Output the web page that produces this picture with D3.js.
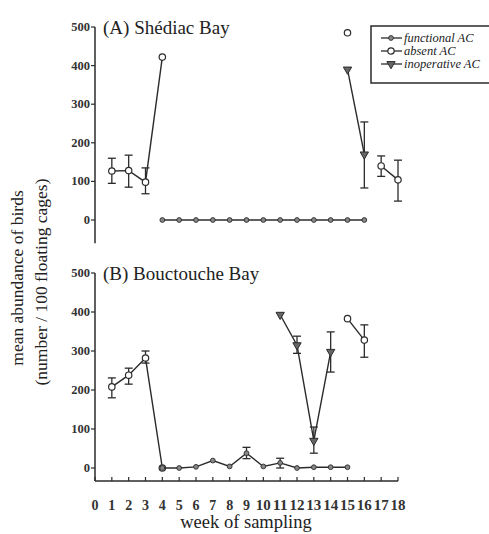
<!DOCTYPE html>
<html>
<head>
<meta charset="utf-8">
<script src="https://cdn.jsdelivr.net/npm/d3@7"></script>
<style>
  body { margin: 0; background: #fff; }
  svg { font-family: "Liberation Serif", "DejaVu Serif", serif; }
</style>
</head>
<body>
<div id="chart"></div>
<script>
// weeks 0..18, null = not sampled
var weeks = d3.range(0, 19);
var xTicks = d3.range(0, 19);
var yTicks = [0, 100, 200, 300, 400, 500];

// (A) Shediac Bay
var A_absent    = [null,127,128,98,422,null,null,null,null,null,null,null,null,null,null,485,null,140,104];
var A_absentLo  = [null,95,85,68,null,null,null,null,null,null,null,null,null,null,null,null,null,113,49];
var A_absentHi  = [null,160,168,135,null,null,null,null,null,null,null,null,null,null,null,null,null,166,155];
var A_inop      = [null,null,null,null,null,null,null,null,null,null,null,null,null,null,null,390,170,null,null];
var A_inopLo    = [null,null,null,null,null,null,null,null,null,null,null,null,null,null,null,null,83,null,null];
var A_inopHi    = [null,null,null,null,null,null,null,null,null,null,null,null,null,null,null,null,254,null,null];
var A_func      = [null,null,null,null,0,0,0,0,0,0,0,0,0,0,0,0,0,null,null];

// (B) Bouctouche Bay
var B_absent    = [null,208,238,282,0,null,null,null,null,null,null,null,null,null,null,383,328,null,null];
var B_absentLo  = [null,180,215,269,null,null,null,null,null,null,null,null,null,null,null,null,284,null,null];
var B_absentHi  = [null,231,256,300,null,null,null,null,null,null,null,null,null,null,null,null,367,null,null];
var B_inop      = [null,null,null,null,null,null,null,null,null,null,null,393,315,70,298,null,null,null,null];
var B_inopLo    = [null,null,null,null,null,null,null,null,null,null,null,null,294,38,246,null,null,null,null];
var B_inopHi    = [null,null,null,null,null,null,null,null,null,null,null,null,338,105,349,null,null,null,null];
var B_func      = [null,null,null,null,0,0,3,19,4,38,4,13,0,2,2,2,null,null,null];
var B_funcLo    = [null,null,null,null,null,null,null,null,null,24,null,0,null,null,null,null,null,null,null];
var B_funcHi    = [null,null,null,null,null,null,null,null,null,53,null,25,null,null,null,null,null,null,null];

var legendLabels = ["functional AC", "absent AC", "inoperative AC"];

var W = 489, H = 534;
var ink = "#2b2b2b";

var svg = d3.select("#chart").append("svg")
    .attr("width", W)
    .attr("height", H);

var x = d3.scaleLinear().domain([0, 18]).range([95, 398]);
var yA = d3.scaleLinear().domain([0, 500]).range([220, 27]);
var yB = d3.scaleLinear().domain([0, 500]).range([468, 273]);

function series(vals, lo, hi) {
  return weeks.map(function(w, i) {
    return {w: w, v: vals[i], lo: lo ? lo[i] : null, hi: hi ? hi[i] : null};
  });
}

function drawPanel(g, y, title, sets, yMinAxis) {
  // y axis
  g.append("line")
    .attr("x1", x(0)).attr("x2", x(0))
    .attr("y1", y(500)).attr("y2", y(yMinAxis))
    .attr("stroke", ink).attr("stroke-width", 1.5);

  var t = g.selectAll(".yt").data(yTicks).join("g").attr("class", "yt");
  t.append("line")
    .attr("x1", x(0) - 4).attr("x2", x(0))
    .attr("y1", d => y(d)).attr("y2", d => y(d))
    .attr("stroke", ink).attr("stroke-width", 1.2);
  t.append("text")
    .attr("x", x(0) - 5).attr("y", d => y(d) + 4)
    .attr("text-anchor", "end")
    .attr("font-size", 12.5).attr("font-weight", "bold")
    .attr("fill", "#333")
    .text(d => d);

  g.append("text")
    .attr("x", x(0) + 8).attr("y", y(500) + 7)
    .attr("font-size", 19).attr("fill", "#222")
    .text(title);

  sets.forEach(function(s) {
    var data = series(s.v, s.lo, s.hi);
    var line = d3.line()
      .defined(d => d.v != null)
      .x(d => x(d.w)).y(d => y(d.v));
    g.append("path")
      .datum(data)
      .attr("fill", "none").attr("stroke", ink).attr("stroke-width", 1.4)
      .attr("d", line);

    var eb = data.filter(d => d.v != null && d.lo != null);
    var e = g.selectAll(null).data(eb).join("g").attr("stroke", ink).attr("stroke-width", 1.3);
    e.append("line").attr("x1", d => x(d.w)).attr("x2", d => x(d.w))
      .attr("y1", d => y(d.lo)).attr("y2", d => y(d.hi));
    e.append("line").attr("x1", d => x(d.w) - 4).attr("x2", d => x(d.w) + 4)
      .attr("y1", d => y(d.lo)).attr("y2", d => y(d.lo));
    e.append("line").attr("x1", d => x(d.w) - 4).attr("x2", d => x(d.w) + 4)
      .attr("y1", d => y(d.hi)).attr("y2", d => y(d.hi));

    var pts = data.filter(d => d.v != null);
    drawMarkers(g, pts, s.kind, d => x(d.w), d => y(d.v));
  });
}

function drawMarkers(g, pts, kind, fx, fy) {
  if (kind === "func") {
    g.selectAll(null).data(pts).join("circle")
      .attr("cx", fx).attr("cy", fy).attr("r", 2.4)
      .attr("fill", "#888").attr("stroke", ink).attr("stroke-width", 0.9);
  } else if (kind === "absent") {
    g.selectAll(null).data(pts).join("circle")
      .attr("cx", fx).attr("cy", fy).attr("r", 3.2)
      .attr("fill", "#fff").attr("stroke", ink).attr("stroke-width", 1.2);
  } else {
    g.selectAll(null).data(pts).join("path")
      .attr("transform", d => "translate(" + fx(d) + "," + fy(d) + ") rotate(180)")
      .attr("d", d3.symbol().type(d3.symbolTriangle).size(30))
      .attr("fill", "#666").attr("stroke", ink).attr("stroke-width", 1);
  }
}

var gA = svg.append("g");
drawPanel(gA, yA, "(A) Shédiac Bay", [
  {kind: "func", v: A_func},
  {kind: "absent", v: A_absent, lo: A_absentLo, hi: A_absentHi},
  {kind: "inop", v: A_inop, lo: A_inopLo, hi: A_inopHi}
], -60);

var gB = svg.append("g");
var axisY = 481;
drawPanel(gB, yB, "(B) Bouctouche Bay", [
  {kind: "absent", v: B_absent, lo: B_absentLo, hi: B_absentHi},
  {kind: "func", v: B_func, lo: B_funcLo, hi: B_funcHi},
  {kind: "inop", v: B_inop, lo: B_inopLo, hi: B_inopHi}
], yB.invert(axisY));

// x axis (bottom panel only)
gB.append("line")
  .attr("x1", x(0)).attr("x2", x(18))
  .attr("y1", axisY).attr("y2", axisY)
  .attr("stroke", ink).attr("stroke-width", 1.5);
var xt = gB.selectAll(".xt").data(xTicks).join("g");
xt.append("line")
  .attr("x1", d => x(d)).attr("x2", d => x(d))
  .attr("y1", axisY - 4).attr("y2", axisY)
  .attr("stroke", ink).attr("stroke-width", 1.2);
xt.append("text")
  .attr("x", d => x(d)).attr("y", axisY + 29)
  .attr("text-anchor", "middle")
  .attr("font-size", 14).attr("font-weight", "bold")
  .attr("fill", "#333")
  .attr("textLength", d => d >= 10 ? 15 : null)
  .attr("lengthAdjust", "spacingAndGlyphs")
  .text(d => d);

svg.append("text")
  .attr("x", 246).attr("y", 528)
  .attr("text-anchor", "middle")
  .attr("font-size", 18.5).attr("fill", "#222")
  .text("week of sampling");

// y label
svg.append("text")
  .attr("transform", "translate(23,278) rotate(-90)")
  .attr("text-anchor", "middle")
  .attr("font-size", 17.5).attr("fill", "#222")
  .text("mean abundance of birds");
svg.append("text")
  .attr("transform", "translate(47,282) rotate(-90)")
  .attr("text-anchor", "middle")
  .attr("font-size", 17.5).attr("fill", "#222")
  .text("(number / 100 floating cages)");

// legend
var lg = svg.append("g").attr("transform", "translate(371,26)");
lg.append("rect")
  .attr("width", 126).attr("height", 57)
  .attr("fill", "#fff").attr("stroke", ink).attr("stroke-width", 1.5);
var kinds = ["func", "absent", "inop"];
var li = lg.selectAll(".li").data(legendLabels).join("g")
  .attr("transform", (d, i) => "translate(0," + (12 + i * 13) + ")");
li.append("line").attr("x1", 10).attr("x2", 31)
  .attr("stroke", ink).attr("stroke-width", 1.3);
li.each(function(d, i) {
  drawMarkers(d3.select(this), [0], kinds[i], () => 20, () => 0);
});
li.append("text")
  .attr("x", 33).attr("y", 4)
  .attr("font-size", 12.5).attr("font-style", "italic").attr("fill", "#222")
  .text(d => d);
</script>
</body>
</html>
